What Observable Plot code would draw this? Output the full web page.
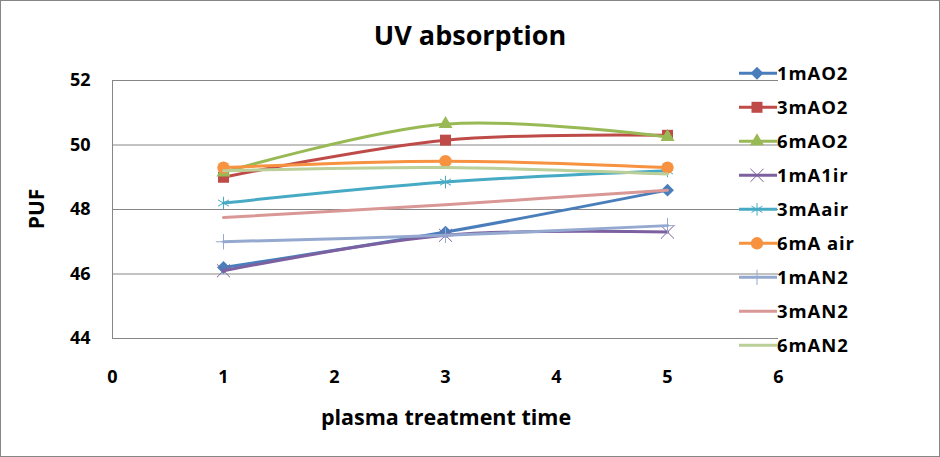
<!DOCTYPE html>
<html><head><meta charset="utf-8">
<script src="https://cdn.jsdelivr.net/npm/d3@7"></script>
<script src="https://cdn.jsdelivr.net/npm/@observablehq/plot@0.6"></script>
<style>body{margin:0;background:#fff} svg{display:block}</style>
</head><body><div id="chart"></div>
<script>
const treatmentTimes = [1, 3, 5];
const seriesNames = ["1mAO2", "3mAO2", "6mAO2", "1mA1ir", "3mAair", "6mA air", "1mAN2", "3mAN2", "6mAN2"];
const v1mAO2 = [46.2, 47.3, 48.6];
const v3mAO2 = [49.0, 50.15, 50.3];
const v6mAO2 = [49.15, 50.65, 50.25];
const v1mA1ir = [46.1, 47.2, 47.3];
const v3mAair = [48.2, 48.85, 49.2];
const v6mAair = [49.3, 49.5, 49.3];
const v1mAN2 = [47.0, 47.2, 47.5];
const v3mAN2 = [47.75, 48.15, 48.6];
const v6mAN2 = [49.2, 49.3, 49.1];
const seriesValues = [v1mAO2, v3mAO2, v6mAO2, v1mA1ir, v3mAair, v6mAair, v1mAN2, v3mAN2, v6mAN2];
const seriesColors = ["#4A7EBB", "#BE4B48", "#98B954", "#7D60A0", "#46AAC5", "#F69240", "#95A9D0", "#D99795", "#BBCF98"];
const seriesSymbols = ["diamond2", "square", "triangle", "times", "asterisk", "circle", "plus", null, null];
const yTicks = [44, 46, 48, 50, 52];
const xTicks = [0, 1, 2, 3, 4, 5, 6];
const titleText = "UV absorption";
const xLabel = "plasma treatment time";
const yLabel = "PUF";

const FONT = "Open Sans";
const filledSymbols = new Set(["diamond2", "square", "triangle", "circle"]);
const symbolR = {diamond2: 5.8, square: 6.2, triangle: 5.2, times: 6, asterisk: 6, circle: 6.2, plus: 5};

const marks = [
  Plot.gridY(yTicks, {stroke: "#868686", strokeOpacity: 1, strokeWidth: 1}),
  Plot.ruleX([0], {stroke: "#868686", strokeWidth: 1}),
  Plot.axisY(yTicks, {tickSize: 0, tickPadding: 22, fontSize: 18, fontWeight: 700, fill: "#000", label: null}),
  Plot.axisX(xTicks, {tickSize: 0, tickPadding: 32, fontSize: 18, fontWeight: 700, fill: "#000", label: null})
];
seriesNames.forEach((name, i) => {
  const rows = treatmentTimes.map((t, j) => ({t, v: seriesValues[i][j]}));
  marks.push(Plot.line(rows, {x: "t", y: "v", stroke: seriesColors[i], strokeWidth: 3, curve: "catmull-rom"}));
  const sym = seriesSymbols[i];
  if (sym) {
    const filled = filledSymbols.has(sym);
    marks.push(Plot.dot(rows, {x: "t", y: "v", symbol: () => sym, r: symbolR[sym],
      fill: filled ? seriesColors[i] : "none", stroke: seriesColors[i], strokeWidth: filled ? 0 : 1}));
  }
});

const plot = Plot.plot({
  width: 940, height: 457,
  marginLeft: 112, marginRight: 162, marginTop: 80, marginBottom: 119,
  style: {fontFamily: FONT, background: "#fff", overflow: "visible"},
  x: {domain: [0, 6]},
  y: {domain: [44, 52]},
  symbol: {type: "identity"},
  marks
});
document.getElementById("chart").appendChild(plot);

const svg = d3.select(plot);
svg.append("rect").attr("x", 0.5).attr("y", 0.5).attr("width", 939).attr("height", 456)
  .attr("fill", "none").attr("stroke", "#868686");
svg.append("text").attr("x", 470).attr("y", 45).attr("text-anchor", "middle")
  .attr("font-family", FONT).attr("font-weight", 700).attr("font-size", 27).attr("fill", "#000").text(titleText);
svg.append("text").attr("x", 446).attr("y", 425).attr("text-anchor", "middle")
  .attr("font-family", FONT).attr("font-weight", 700).attr("font-size", 21.5).attr("fill", "#000").text(xLabel);
svg.append("text").attr("transform", "translate(44,209) rotate(-90)").attr("text-anchor", "middle")
  .attr("font-family", FONT).attr("font-weight", 700).attr("font-size", 21).attr("fill", "#000").text(yLabel);

const symMap = {diamond2: d3.symbolDiamond2, square: d3.symbolSquare, triangle: d3.symbolTriangle,
  times: d3.symbolTimes, asterisk: d3.symbolAsterisk, circle: d3.symbolCircle, plus: d3.symbolPlus};
const legend = svg.append("g").attr("text-anchor", "start");
seriesNames.forEach((name, i) => {
  const y = 73.3 + i * 34;
  const g = legend.append("g").attr("transform", `translate(0,${y})`);
  g.append("line").attr("x1", 739).attr("x2", 777).attr("y1", 0).attr("y2", 0)
    .attr("stroke", seriesColors[i]).attr("stroke-width", 3);
  const sym = seriesSymbols[i];
  if (sym) {
    const r = symbolR[sym];
    const filled = filledSymbols.has(sym);
    g.append("path").attr("transform", "translate(757,0)")
      .attr("d", d3.symbol(symMap[sym], Math.PI * r * r)())
      .attr("fill", filled ? seriesColors[i] : "none").attr("stroke", filled ? "none" : seriesColors[i]).attr("stroke-width", 1);
  }
  g.append("text").attr("x", 777).attr("y", 0).attr("dy", "0.36em").attr("text-anchor", "start")
    .attr("font-family", FONT).attr("font-weight", 700).attr("font-size", 18.5).attr("letter-spacing", "0.9px")
    .attr("fill", "#000").text(name);
});
</script></body></html>
